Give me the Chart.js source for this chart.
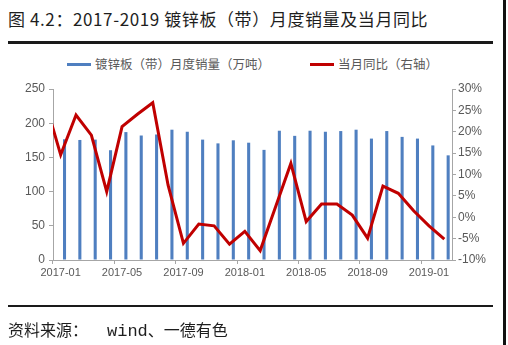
<!DOCTYPE html>
<html>
<head>
<meta charset="utf-8">
<script src="https://cdn.jsdelivr.net/npm/chart.js@4/dist/chart.umd.min.js"></script>
<style>
  html, body { margin: 0; padding: 0; background: #fff; }
  #wrap { position: relative; width: 508px; height: 345px; overflow: hidden; background: #fff; }
  #c { position: absolute; left: 0; top: 0; }
  .title { position: absolute; left: 8px; top: 7px; font: 17px "Noto Sans CJK SC", sans-serif; color: #1e1e1e; white-space: nowrap; line-height: 24px; letter-spacing: 0.6px; }
  .src { position: absolute; left: 8px; top: 317px; font: 16px "Noto Sans CJK SC", sans-serif; color: #1e1e1e; white-space: nowrap; line-height: 24px; }
  .src .mono { font-family: "Liberation Mono", monospace; font-size: 17px; margin-left: 19px; }
  .hr { position: absolute; left: 8px; width: 485px; background: #1a1a1a; }
  .edge { position: absolute; left: 503px; top: 0; width: 3px; height: 345px; background: #111; }
  .legend { position: absolute; top: 55px; left: 0; width: 508px; height: 18px; font: 12.5px "Noto Sans CJK SC", sans-serif; color: #5a5a5a; white-space: nowrap; }
  .legend .item { position: absolute; top: 0; line-height: 18px; }
  .legend .sw { position: absolute; top: 8px; width: 24px; height: 3px; }
</style>
</head>
<body>
<div id="wrap">
  <div class="title">图 4.2：2017-2019 镀锌板（带）月度销量及当月同比</div>
  <div class="hr" style="top:41px;height:3px;"></div>
  <div class="legend">
    <div class="item" style="left:67px;"><span class="sw" id="sw1" style="left:0;"></span><span style="margin-left:28px;" id="lg1"></span></div>
    <div class="item" style="left:310px;"><span class="sw" id="sw2" style="left:0;"></span><span style="margin-left:28px;" id="lg2"></span></div>
  </div>
  <canvas id="c" width="508" height="345"></canvas>
  <div class="hr" style="top:305px;height:2px;"></div>
  <div class="src">资料来源：<span class="mono">wind</span>、一德有色</div>
  <div class="edge"></div>
</div>
<script>
// ---- data ----
const months = ['2017-01','2017-02','2017-03','2017-04','2017-05','2017-06','2017-07','2017-08','2017-09','2017-10','2017-11','2017-12',
                '2018-01','2018-02','2018-03','2018-04','2018-05','2018-06','2018-07','2018-08','2018-09','2018-10','2018-11','2018-12',
                '2019-01','2019-02'];
// 镀锌板（带）月度销量（万吨）
const sales = [176.5, 175.5, 176, 160.5, 187, 182, 183.5, 190.5, 187.5, 176, 170.5, 175,
               171.5, 161, 189, 181.5, 189, 187.5, 188.5, 190.5, 177.5, 188.5, 180, 177.5,
               167.5, 153];
// 当月同比（%），first value is the month before 2017-01 (the line enters from the left edge)
const yoyPrevMonth = 27.0;
const yoy = [14.6, 23.9, 19.2, 6.0, 21.2, 24.1, 26.8, 7.5, -6.1, -1.6, -2.0, -6.3,
             -3.3, -7.8, 2.4, 12.6, -1.0, 3.1, 3.1, 0.5, -4.9, 7.3, 5.6, 1.5,
             -2.0, -5.1];
const leftTicks = [0, 50, 100, 150, 200, 250];
const rightTicks = [-10, -5, 0, 5, 10, 15, 20, 25, 30];
const seriesNames = ['镀锌板（带）月度销量（万吨）', '当月同比（右轴）'];

const BAR_COLOR = '#4f7fc0';
const LINE_COLOR = '#c00000';
const AXIS_COLOR = '#a6a6a6';
const TICK_COLOR = '#595959';

document.getElementById('lg1').textContent = seriesNames[0];
document.getElementById('lg2').textContent = seriesNames[1];
document.getElementById('sw1').style.background = BAR_COLOR;
document.getElementById('sw2').style.background = LINE_COLOR;

const linePoints = [{x: -1, y: yoyPrevMonth}].concat(yoy.map((v, i) => ({x: i, y: v})));

new Chart(document.getElementById('c'), {
  data: {
    labels: months,
    datasets: [
      {
        type: 'line', label: seriesNames[1], data: linePoints,
        xAxisID: 'x2', yAxisID: 'y1',
        borderColor: LINE_COLOR, borderWidth: 3, pointRadius: 0, tension: 0,
        order: 0, clip: {left: 0, right: 6, top: 6, bottom: 6}
      },
      {
        type: 'bar', label: seriesNames[0], data: sales,
        xAxisID: 'x', yAxisID: 'y',
        backgroundColor: BAR_COLOR, barPercentage: 0.4, categoryPercentage: 1.0,
        order: 1
      }
    ]
  },
  options: {
    responsive: false, animation: false, devicePixelRatio: 1,
    layout: { padding: { top: 89, left: 0, right: 0, bottom: 65 } },
    plugins: { legend: { display: false }, tooltip: { enabled: false }, title: { display: false } },
    scales: {
      x: {
        type: 'category', offset: true, position: 'bottom',
        grid: {
          offset: true, drawOnChartArea: false, tickLength: 4,
          color: (ctx) => (ctx.index % 4 === 0 ? AXIS_COLOR : 'rgba(0,0,0,0)')
        },
        border: { color: AXIS_COLOR, width: 1 },
        ticks: {
          autoSkip: false, maxRotation: 0, minRotation: 0, padding: 2,
          color: TICK_COLOR, font: { family: 'Liberation Sans', size: 11 },
          callback: function (v, i) { return i % 4 === 0 ? months[i] : ''; }
        },
        afterFit: (s) => { s.height = 20; }
      },
      x2: { type: 'linear', display: false, min: -0.5, max: months.length - 0.5 },
      y: {
        position: 'left', min: leftTicks[0], max: leftTicks[leftTicks.length - 1],
        afterBuildTicks: (s) => { s.ticks = leftTicks.map(v => ({value: v})); },
        grid: { drawOnChartArea: false, tickLength: 4, color: AXIS_COLOR },
        border: { color: AXIS_COLOR, width: 1 },
        ticks: { color: TICK_COLOR, font: { family: 'Liberation Sans', size: 12 }, padding: 4 },
        afterFit: (s) => { s.width = 53; }
      },
      y1: {
        position: 'right', min: rightTicks[0], max: rightTicks[rightTicks.length - 1],
        afterBuildTicks: (s) => { s.ticks = rightTicks.map(v => ({value: v})); },
        grid: { drawOnChartArea: false, tickLength: 4, color: AXIS_COLOR },
        border: { color: AXIS_COLOR, width: 1 },
        ticks: { color: TICK_COLOR, font: { family: 'Liberation Sans', size: 12 }, padding: 2,
                 callback: (v) => v + '%' },
        afterFit: (s) => { s.width = 56; }
      }
    }
  }
});
</script>
</body>
</html>
